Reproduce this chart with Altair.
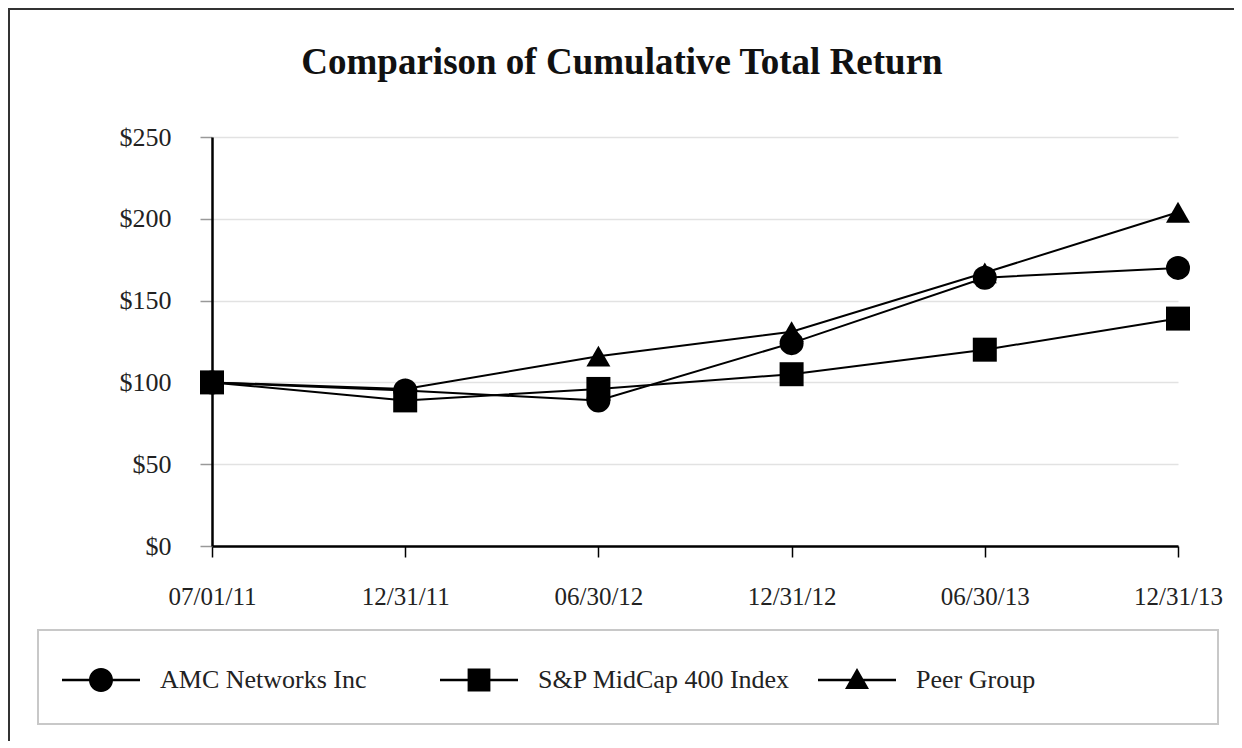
import altair as alt
import pandas as pd

# ---- data ----
dates = ["07/01/11", "12/31/11", "06/30/12", "12/31/12", "06/30/13", "12/31/13"]
series_names = ["AMC Networks Inc", "S&P MidCap 400 Index", "Peer Group"]
amc = [100, 95, 89, 124, 164, 170]
sp400 = [100, 89, 96, 105, 120, 139]
peer = [100, 96, 116, 131, 167, 204]
y_ticks = [0, 50, 100, 150, 200, 250]
title_text = "Comparison of Cumulative Total Return"

# draw order: Peer first, then AMC, then S&P on top
rows = []
for name, vals in [(series_names[2], peer), (series_names[0], amc), (series_names[1], sp400)]:
    for i, (d, v) in enumerate(zip(dates, vals)):
        rows.append({"date": d, "idx": i, "series": name, "value": v})
df = pd.DataFrame(rows)

FONT = "Liberation Serif"

x_enc = alt.X(
    "date:N",
    sort=dates,
    scale=alt.Scale(type="point", padding=0),
    axis=alt.Axis(
        title=None, labelAngle=0, grid=False,
        domainColor="black", domainWidth=2.5,
        tickColor="black", tickWidth=1.5, tickSize=11,
        labelPadding=27, labelFont=FONT, labelFontSize=25, labelColor="#222",
    ),
)
y_enc = alt.Y(
    "value:Q",
    scale=alt.Scale(domain=[0, 250], nice=False, zero=True),
    axis=alt.Axis(
        title=None, values=y_ticks, labelExpr="'$' + datum.value",
        grid=True, gridColor="#e2e2e2", gridWidth=1.5,
        domainColor="black", domainWidth=2.5,
        tickColor="#999999", tickWidth=1.5, tickSize=12,
        labelPadding=29, labelFont=FONT, labelFontSize=26, labelColor="#222",
    ),
)

base = alt.Chart(df)

lines = base.mark_line(color="black", strokeWidth=2).encode(
    x=x_enc, y=y_enc, detail="series:N", order=alt.Order("idx:Q")
)

points = base.mark_point(filled=True, size=576, color="black", opacity=1).encode(
    x=x_enc, y=y_enc,
    shape=alt.Shape(
        "series:N",
        scale=alt.Scale(domain=series_names, range=["circle", "square", "triangle-up"]),
        legend=None,
    ),
)

line_part = "M-3.25,-0.1H3.25V0.1H-3.25Z"
legend_paths = [
    line_part + "M1,0A1,1 0 1,1 -1,0A1,1 0 1,1 1,0Z",
    line_part + "M-0.95,-0.95H0.95V0.95H-0.95Z",
    line_part + "M0,-1L1,0.75L-1,0.75Z",
]

legend_layer = base.mark_point(filled=True, size=576, color="black", opacity=0).encode(
    x=x_enc, y=y_enc,
    shape=alt.Shape(
        "series:N",
        scale=alt.Scale(domain=series_names, range=legend_paths),
        legend=alt.Legend(
            title=None, orient="none", legendX=-124, legendY=530,
            direction="horizontal", columns=3, gridAlign="all", columnPadding=27,
            labelFont=FONT, labelFontSize=26, labelColor="#222", labelLimit=0,
            labelOffset=46, symbolSize=576, symbolOpacity=1,
            symbolFillColor="black", symbolStrokeWidth=0, padding=0,
        ),
    ),
)

one = pd.DataFrame({"k": [0]})

legend_box = alt.Chart(one).mark_rect(fill="white", stroke="#c8c8c8", strokeWidth=2).encode(
    x=alt.value(-174), x2=alt.value(1006), y=alt.value(493), y2=alt.value(587)
)

frame_top = alt.Chart(one).mark_rule(color="#333333", strokeWidth=2).encode(
    x=alt.value(-204), x2=alt.value(1030), y=alt.value(-128)
)
frame_left = alt.Chart(one).mark_rule(color="#333333", strokeWidth=2).encode(
    x=alt.value(-203), y=alt.value(-129), y2=alt.value(611)
)

title = alt.Chart(pd.DataFrame({"t": [title_text]})).mark_text(
    font=FONT, fontSize=37, fontWeight="bold", color="#111111",
    align="center", baseline="middle",
).encode(text="t:N", x=alt.value(410), y=alt.value(-74))

chart = (
    alt.layer(legend_box, frame_top, frame_left, title, lines, legend_layer, points)
    .resolve_scale(shape="independent")
    .resolve_legend(shape="independent")
    .properties(
        width=966, height=409,
        autosize=alt.AutoSizeParams(type="none"),
        padding={"left": 204, "top": 129, "right": 56, "bottom": 195},
        background="white",
    )
    .configure_view(stroke=None)
)

chart.save("out.html", embed_options={"renderer": "svg", "actions": False})
